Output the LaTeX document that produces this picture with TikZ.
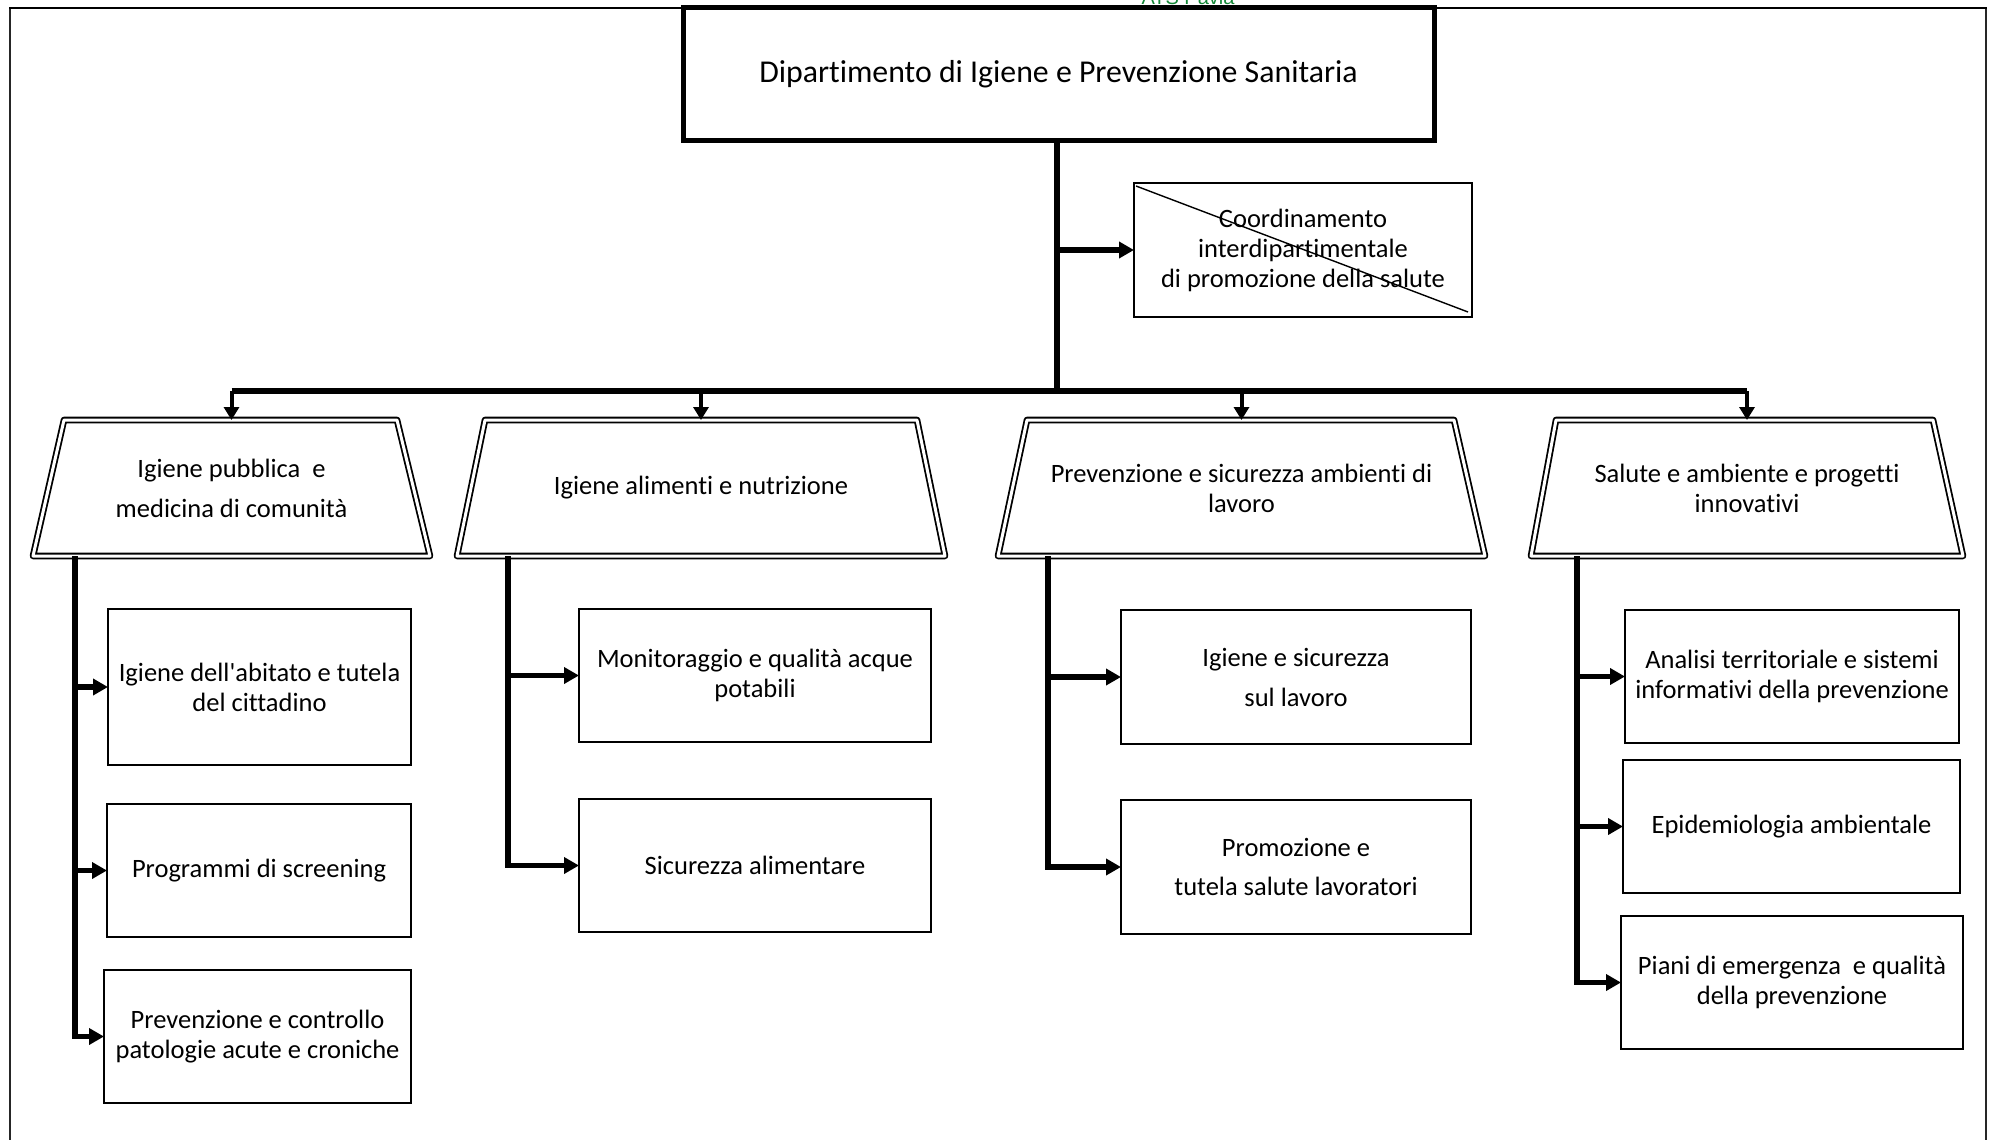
\documentclass[tikz,border=0pt]{standalone}
\usepackage{fontspec}
\setmainfont{Carlito}[Ligatures={TeX,NoCommon}]
\newfontfamily\headerfont{Liberation Sans}
\usetikzlibrary{arrows.meta}
\definecolor{atsgreen}{RGB}{20,135,55}

% double-ruled trapezium around an invisible node: #1 node, #2/#3 top insets
\newcommand\trapframe[3]{%
  \draw[dbl] ([xshift=#2]#1.north west) -- ([xshift=-#3]#1.north east)
    -- (#1.south east) -- (#1.south west) -- cycle;}

\begin{document}
\begin{tikzpicture}[x=1pt,y=-1pt,
  txt/.style={font=\fontsize{26.5}{30}\selectfont, align=center},
  unitbox/.style={txt, draw, line width=2.5pt, inner sep=0pt, outer sep=0pt},
  area/.style={txt, inner sep=0pt, outer sep=0pt},
  dbl/.style={line width=1.8pt, double, double distance=3pt, line join=round},
  conn/.style={line width=5.5pt},
  arr/.style={line width=5.5pt, -{Triangle[length=15pt,width=16pt]}},
  drop/.style={line width=4pt, -{Triangle[length=13pt,width=15pt]}}
]
\useasboundingbox (0,0) rectangle (1997,1140);

% page frame, open at the bottom
\draw[line width=1.8pt, black!85] (10,1150) -- (10,8);
\draw[line width=1.8pt, black!85] (1986,8) -- (1986,1150);
\draw[line width=2.2pt] (9,8) -- (1987,8);
\node[font=\headerfont\fontsize{20}{22}\selectfont, text=atsgreen, anchor=base] (hdr) at (1188,5) {ATS Pavia};

% department
\node[unitbox, line width=5pt, minimum width=751, minimum height=132,
      font=\fontsize{31.8}{36}\selectfont] (top) at (1058.5,74)
  {Dipartimento di Igiene e Prevenzione Sanitaria};

% struck-out coordination unit
\node[unitbox, line width=2.2pt, minimum width=338, minimum height=134] (coord) at (1303,250)
  {Coordinamento\\interdipartimentale\\di promozione della salute};
\draw[line width=1.4pt] ([shift={(2,3)}]coord.north west) -- ([shift={(-4,-5)}]coord.south east);

% the four areas
\node[area, minimum width=397, minimum height=136] (t1) at (231.5,488)
  {Igiene pubblica\ \ e\\[10pt]medicina di comunità};
\node[area, minimum width=488, minimum height=136] (t2) at (701,488)
  {Igiene alimenti e nutrizione};
\node[area, minimum width=487, minimum height=136] (t3) at (1241.5,488)
  {Prevenzione e sicurezza ambienti di\\lavoro};
\node[area, minimum width=432, minimum height=136] (t4) at (1747,488)
  {Salute e ambiente e progetti\\innovativi};
\trapframe{t1}{31}{33}
\trapframe{t2}{28}{28}
\trapframe{t3}{29}{31}
\trapframe{t4}{25}{30}

% units of the first area
\node[unitbox, minimum width=303, minimum height=156] (b11) at (259.5,687)
  {Igiene dell\textquotesingle abitato e tutela\\del cittadino};
\node[unitbox, minimum width=304, minimum height=133] (b12) at (259,870.5)
  {Programmi di screening};
\node[unitbox, minimum width=307, minimum height=133] (b13) at (257.5,1036.5)
  {Prevenzione e controllo\\patologie acute e croniche};

% units of the second area
\node[unitbox, minimum width=352, minimum height=133] (b21) at (755,675.5)
  {Monitoraggio e qualità acque\\potabili};
\node[unitbox, minimum width=352, minimum height=133] (b22) at (755,865.5)
  {Sicurezza alimentare};

% units of the third area
\node[unitbox, minimum width=350, minimum height=134] (b31) at (1296,677)
  {Igiene e sicurezza\\[10pt]sul lavoro};
\node[unitbox, minimum width=350, minimum height=134] (b32) at (1296,867)
  {Promozione e\\[9pt]tutela salute lavoratori};

% units of the fourth area
\node[unitbox, minimum width=334, minimum height=133] (b41) at (1792,676.5)
  {Analisi territoriale e sistemi\\informativi della prevenzione};
\node[unitbox, minimum width=337, minimum height=133] (b42) at (1791.5,826.5)
  {Epidemiologia ambientale};
\node[unitbox, minimum width=342, minimum height=133] (b43) at (1792,982.5)
  {Piani di emergenza\ \ e qualità\\della prevenzione};

% trunk and bus
\coordinate (hub) at (1057,391);
\draw[conn] (top.south -| hub) -- (hub);
\draw[arr] (top.south |- coord.west) -- (coord.west);
\draw[conn] (t1.north |- hub) -- (t4.north |- hub);
\foreach \t in {t1,t2,t3,t4}
  \draw[drop] (\t.north |- hub) -- (\t.north);

% area spines
\coordinate (s1) at (75,556);
\coordinate (s2) at (508,556);
\coordinate (s3) at (1048,556);
\coordinate (s4) at (1577,556);

\draw[arr] (s1) |- (b13.west);
\draw[arr] (s1 |- b11.west) -- (b11.west);
\draw[arr] (s1 |- b12.west) -- (b12.west);

\draw[arr] (s2) |- (b22.west);
\draw[arr] (s2 |- b21.west) -- (b21.west);

\draw[arr] (s3) |- (b32.west);
\draw[arr] (s3 |- b31.west) -- (b31.west);

\draw[arr] (s4) |- (b43.west);
\draw[arr] (s4 |- b41.west) -- (b41.west);
\draw[arr] (s4 |- b42.west) -- (b42.west);
\end{tikzpicture}
\end{document}
